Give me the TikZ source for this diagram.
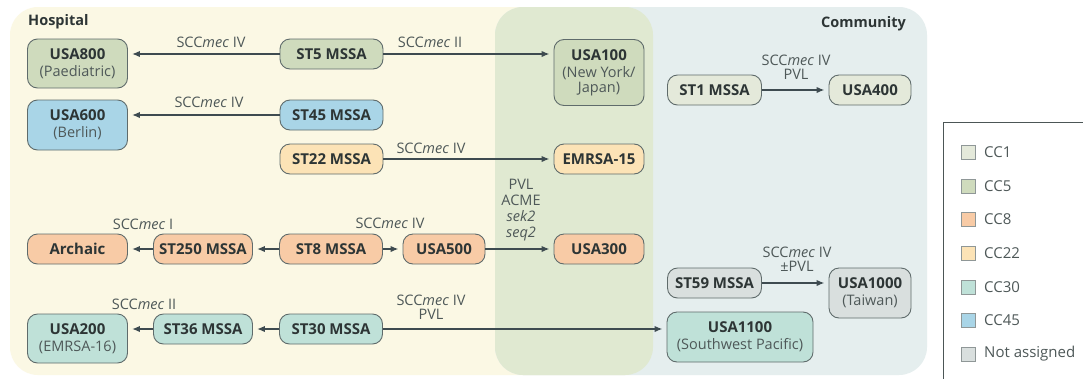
\documentclass[tikz,border=0pt]{standalone}
\usepackage{fontspec}
\setmainfont{Open Sans}
\usetikzlibrary{arrows.meta}
\definecolor{hosp}{HTML}{FBF8E4}
\definecolor{comm}{HTML}{E5EEEE}
\definecolor{ovl}{HTML}{E0E9D1}
\definecolor{ccone}{HTML}{E4E9DA}
\definecolor{ccfive}{HTML}{CFDBBD}
\definecolor{cceight}{HTML}{F8CBA6}
\definecolor{cctt}{HTML}{FCE3B6}
\definecolor{ccthirty}{HTML}{BFE1D8}
\definecolor{ccff}{HTML}{A9D5E7}
\definecolor{ccna}{HTML}{D9DFDE}
\definecolor{edgec}{HTML}{5F6B6B}
\definecolor{arr}{HTML}{3E4B50}
\definecolor{txt}{HTML}{2D3535}
\definecolor{lab}{HTML}{4E5858}
\newcommand\subl[1]{{\fontsize{14.5}{16}\selectfont\mdseries\color{lab}#1}}
\begin{document}
\begin{tikzpicture}[x=1pt,y=-1pt,
 box/.style={draw=edgec, line width=0.9pt, rounded corners=10pt, align=center, inner sep=0pt,
   font=\fontsize{15}{17}\selectfont\bfseries, text=txt},
 lbl/.style={align=center, inner sep=0pt, text=lab, font=\fontsize{14.5}{16.5}\selectfont},
 title/.style={inner sep=0pt, text=txt, font=\fontsize{14.5}{16}\selectfont\bfseries},
 arrowst/.style={draw=arr, line width=2pt, -{Latex[length=8pt,width=6.5pt]}, shorten >=4pt},
 legsq/.style={draw=edgec!70, line width=0.6pt, minimum width=14pt, minimum height=14pt, inner sep=0pt},
 legtx/.style={anchor=west, inner sep=0pt, text=lab, font=\fontsize{15}{17}\selectfont}]
\useasboundingbox (0,0) rectangle (1083,378);
\clip (0,0) rectangle (1083,378);
\fill[white] (0,0) rectangle (1083,378);
% regions
\fill[hosp] (10,7) [rounded corners=28pt] rectangle (653,375);
\fill[comm] (495,7) [rounded corners=28pt] rectangle (927,375);
\begin{scope}
 \clip (10,7) [rounded corners=28pt] rectangle (653,375);
 \fill[ovl] (495,7) [rounded corners=28pt] rectangle (927,375);
\end{scope}
\node[title, anchor=west] (hospital) at (28,22) {Hospital};
\node[title, anchor=east] (community) at (906,24) {Community};
% nodes
\node[box, fill=ccfive, minimum width=100pt, minimum height=49pt] (usa800) at (77.5,63.5) {USA800\\\subl{(Paediatric)}};
\node[box, fill=ccfive, minimum width=103pt, minimum height=30pt] (st5) at (331.5,54) {ST5 MSSA};
\node[box, fill=ccfive, minimum width=90pt, minimum height=66pt] (usa100) at (599,72.5) {USA100\\\subl{(New York/}\\[-2pt]\subl{Japan)}};
\node[box, fill=ccone, minimum width=94pt, minimum height=30pt] (st1) at (714.5,90) {ST1 MSSA};
\node[box, fill=ccone, minimum width=82pt, minimum height=30pt] (usa400) at (870,90) {USA400};
\node[box, fill=ccff, minimum width=100pt, minimum height=50pt] (usa600) at (77.5,125) {USA600\\\subl{(Berlin)}};
\node[box, fill=ccff, minimum width=103pt, minimum height=30pt] (st45) at (331.5,115) {ST45 MSSA};
\node[box, fill=cctt, minimum width=103pt, minimum height=30pt] (st22) at (331.5,159) {ST22 MSSA};
\node[box, fill=cctt, minimum width=90pt, minimum height=30pt] (emrsa) at (599,159) {EMRSA-15};
\node[box, fill=cceight, minimum width=100pt, minimum height=30pt] (archaic) at (77.5,249) {Archaic};
\node[box, fill=cceight, minimum width=99pt, minimum height=30pt] (st250) at (203,249) {ST250 MSSA};
\node[box, fill=cceight, minimum width=103pt, minimum height=30pt] (st8) at (331,249) {ST8 MSSA};
\node[box, fill=cceight, minimum width=82pt, minimum height=30pt] (usa500) at (444,249) {USA500};
\node[box, fill=cceight, minimum width=90pt, minimum height=30pt] (usa300) at (599,249) {USA300};
\node[box, fill=ccna, minimum width=94pt, minimum height=30pt] (st59) at (714.5,283) {ST59 MSSA};
\node[box, fill=ccna, minimum width=82pt, minimum height=50pt] (usa1000) at (870,293) {USA1000\\\subl{(Taiwan)}};
\node[box, fill=ccthirty, minimum width=100pt, minimum height=49pt] (usa200) at (77.5,338.5) {USA200\\\subl{(EMRSA-16)}};
\node[box, fill=ccthirty, minimum width=99pt, minimum height=30pt] (st36) at (203,329) {ST36 MSSA};
\node[box, fill=ccthirty, minimum width=103pt, minimum height=30pt] (st30) at (331,329) {ST30 MSSA};
\node[box, fill=ccthirty, minimum width=146pt, minimum height=50pt] (usa1100) at (740,337) {USA1100\\\subl{(Southwest Pacific)}};
% connectors
\draw[arrowst] (st5.west) -- (st5.west -| usa800.east);
\draw[arrowst] (st5.east) -- (st5.east -| usa100.west);
\draw[arrowst] (st45.west) -- (st45.west -| usa600.east);
\draw[arrowst] (st22) -- (emrsa);
\draw[arrowst] (st1) -- (usa400);
\draw[arrowst] (st250) -- (archaic);
\draw[arrowst] (st8) -- (st250);
\draw[arrowst] (st8) -- (usa500);
\draw[arrowst] (usa500) -- (usa300);
\draw[arrowst] (st59.east) -- (st59.east -| usa1000.west);
\draw[arrowst] (st36.west) -- (st36.west -| usa200.east);
\draw[arrowst] (st30) -- (st36);
\draw[arrowst] (st30.east) -- (st30.east -| usa1100.west);
% labels
\node[lbl] (l1) at (211,42) {SCC\textit{mec} IV};
\node[lbl] (l2) at (430,42) {SCC\textit{mec} II};
\node[lbl] (l3) at (209,102) {SCC\textit{mec} IV};
\node[lbl] (l4) at (431,148) {SCC\textit{mec} IV};
\node[lbl] (l5) at (796,67) {SCC\textit{mec} IV\\[-3pt]PVL};
\node[lbl] (l6) at (521,210) {PVL\\[-0.5pt]ACME\\[-0.5pt]\textit{sek2}\\[-0.5pt]\textit{seq2}};
\node[lbl] (l7) at (143,224) {SCC\textit{mec} I};
\node[lbl] (l8) at (390,223) {SCC\textit{mec} IV};
\node[lbl] (l9) at (144,304) {SCC\textit{mec} II};
\node[lbl] (l10) at (431,307) {SCC\textit{mec} IV\\[-2pt]PVL};
\node[lbl] (l11) at (797,259) {SCC\textit{mec} IV\\[-3pt]\textpm PVL};
% legend
\draw[edgec!80!black, line width=0.8pt] (943,122) rectangle (1100,400);
\node[legsq, fill=ccone] (q1) at (968,152) {};
\node[legtx] (t1) at (984,152) {CC1};
\node[legsq, fill=ccfive] (q2) at (968,186) {};
\node[legtx] (t2) at (984,186) {CC5};
\node[legsq, fill=cceight] (q3) at (968,219) {};
\node[legtx] (t3) at (984,219) {CC8};
\node[legsq, fill=cctt] (q4) at (968,253) {};
\node[legtx] (t4) at (984,253) {CC22};
\node[legsq, fill=ccthirty] (q5) at (968,287) {};
\node[legtx] (t5) at (984,287) {CC30};
\node[legsq, fill=ccff] (q6) at (968,320) {};
\node[legtx] (t6) at (984,320) {CC45};
\node[legsq, fill=ccna] (q7) at (968,354) {};
\node[legtx] (t7) at (984,354) {Not assigned};
\end{tikzpicture}
\end{document}
